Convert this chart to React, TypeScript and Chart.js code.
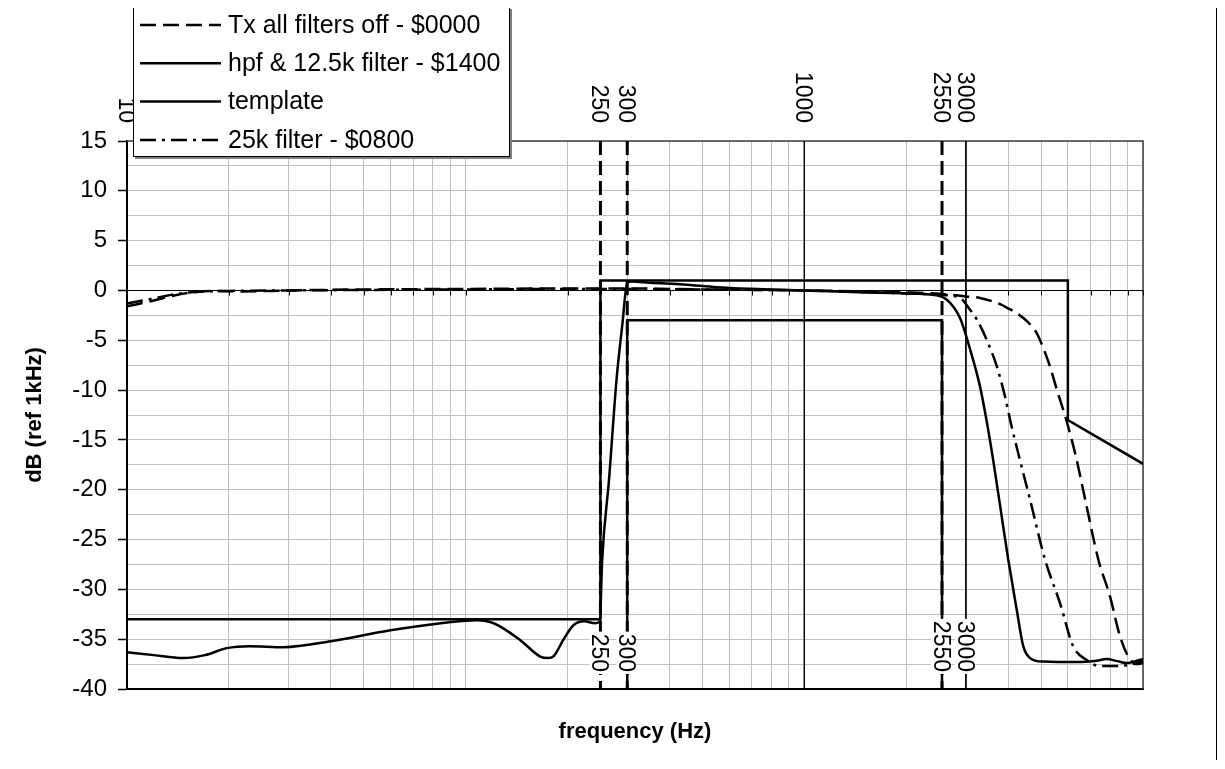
import React, { useEffect, useRef } from 'react';
import { Chart, registerables } from 'chart.js';

Chart.register(...registerables);

// ---------------- data ----------------
const seriesNames = [
  'Tx all filters off - $0000',
  'hpf & 12.5k filter - $1400',
  'template',
  '25k filter - $0800',
];

const txOffFreq = [10, 12, 14, 16, 18, 22, 30, 50, 100, 200, 300, 500, 1000, 2000, 2550, 3000, 3300, 3600, 3800, 4000, 4200, 4550, 4850, 5080, 5310, 5560, 5890, 6160, 6370, 6800, 7380, 7990, 8550, 9050, 9570, 10000];
const txOffDb = [-1.6, -1.0, -0.45, -0.15, -0.05, -0.1, 0, 0.1, 0.15, 0.2, 0.2, 0.1, 0, -0.2, -0.35, -0.6, -0.75, -1.1, -1.4, -1.8, -2.2, -3.1, -4.25, -5.8, -7.6, -9.9, -12.6, -15, -17, -21.5, -27, -30.7, -34.7, -36.75, -37.5, -37.4];

const hpfFreq = [10, 12, 14.6, 17, 19.7, 23, 29, 40, 60, 80, 100, 108, 121, 145, 166, 175, 182, 194, 208, 224, 241, 249, 253, 265, 279, 290, 300, 310, 350, 440, 550, 690, 1000, 1670, 2350, 2630, 2880, 3080, 3300, 3450, 3610, 3800, 4000, 4240, 4430, 4640, 5070, 6520, 7200, 7810, 8400, 8950, 9500, 10000];
const hpfDb = [-36.3, -36.6, -36.9, -36.6, -35.9, -35.7, -35.8, -35.2, -34.1, -33.5, -33.15, -33.1, -33.4, -35.1, -36.75, -36.9, -36.7, -35.1, -33.6, -33.2, -33.4, -33.2, -27, -19, -8.9, -3.5, 0.8, 0.9, 0.77, 0.6, 0.33, 0.17, 0, -0.23, -0.4, -0.9, -2.75, -5.8, -9.6, -13, -17, -22, -27, -32.1, -35.7, -36.9, -37.25, -37.3, -37.2, -37.0, -37.2, -37.4, -37.2, -37.0];

const k25Freq = [10, 12, 14, 17, 20, 30, 50, 100, 200, 300, 500, 1000, 2000, 2550, 2880, 3080, 3230, 3450, 3700, 3910, 4090, 4330, 4640, 5135, 5690, 6220, 6820, 7460, 8200, 9360, 10000];
const k25Db = [-1.3, -0.8, -0.35, -0.1, -0.05, 0, 0.05, 0.1, 0.15, 0.15, 0.1, 0, -0.3, -0.45, -0.75, -1.9, -2.9, -4.9, -7.6, -10.6, -13.6, -17, -21, -27, -31.4, -35.7, -37.1, -37.7, -37.7, -37.5, -37.2];

const templateUpperFreq = [10, 250, 250, 6000, 6000, 10000];
const templateUpperDb = [-33, -33, 1, 1, -13, -17.4];
const templateLowerFreq = [300, 300, 2550, 2550];
const templateLowerDb = [-40, -3, -3, -40];

const dashedMarkers = [250, 300, 2550];
const thinMarkers = [1000, 3000];
const topMarkerLabels = [10, 250, 300, 1000, 2550, 3000];
const bottomMarkerLabels = [250, 300, 2550, 3000];

const xMin = 10;
const xMax = 10000;
const yMin = -40;
const yMax = 15;
const xGridValues = [10, 20, 30, 40, 50, 60, 70, 80, 90, 100, 200, 300, 400, 500, 600, 700, 800, 900, 1000, 2000, 3000, 4000, 5000, 6000, 7000, 8000, 9000, 10000];
const yTickValues = [-40, -37.5, -35, -32.5, -30, -27.5, -25, -22.5, -20, -17.5, -15, -12.5, -10, -7.5, -5, -2.5, 0, 2.5, 5, 7.5, 10, 12.5, 15];

const xTitle = 'frequency (Hz)';
const yTitle = 'dB (ref 1kHz)';

function zip(xs: number[], ys: number[]) {
  return xs.map((x, i) => ({ x, y: ys[i] }));
}

export default function App() {
  const ref = useRef<HTMLCanvasElement>(null);

  useEffect(() => {
    const canvas = ref.current;
    if (!canvas) return;
    document.documentElement.style.overflow = 'hidden';
    const family = "'Liberation Sans', Arial, sans-serif";
    Chart.defaults.font.family = family;
    Chart.defaults.color = '#000';

    const lineDash = [16, 7];
    const dashDot = [16, 6, 3, 6];
    const markerDash = [14, 6];

    const curveCommon = {
      borderColor: '#000',
      backgroundColor: '#000',
      pointRadius: 0,
      fill: false,
    };

    const datasets: any[] = [
      { ...curveCommon, label: seriesNames[0], data: zip(txOffFreq, txOffDb), borderWidth: 2.5, borderDash: lineDash, cubicInterpolationMode: 'monotone' },
      { ...curveCommon, label: seriesNames[1], data: zip(hpfFreq, hpfDb), borderWidth: 2.5, cubicInterpolationMode: 'monotone' },
      { ...curveCommon, label: seriesNames[2], data: zip(templateUpperFreq, templateUpperDb), borderWidth: 2.5, tension: 0 },
      { ...curveCommon, label: seriesNames[3], data: zip(k25Freq, k25Db), borderWidth: 2.5, borderDash: dashDot, cubicInterpolationMode: 'monotone' },
      { ...curveCommon, label: 'template lower', data: zip(templateLowerFreq, templateLowerDb), borderWidth: 2.5, tension: 0 },
      ...dashedMarkers.map((f) => ({ ...curveCommon, label: 'm' + f, data: [{ x: f, y: yMax }, { x: f, y: yMin }], borderWidth: 3, borderDash: markerDash, tension: 0 })),
      ...thinMarkers.map((f) => ({ ...curveCommon, label: 'm' + f, data: [{ x: f, y: yMax }, { x: f, y: yMin }], borderWidth: 1, tension: 0 })),
    ];

    const legendStyles = [
      { dash: lineDash },
      { dash: [] as number[] },
      { dash: [] as number[] },
      { dash: dashDot },
    ];

    const decor = {
      id: 'excelDecor',
      beforeDatasetsDraw(chart: any) {
        const { ctx, chartArea } = chart;
        const xs = chart.scales.x;
        const ys = chart.scales.y;
        ctx.save();
        // plot area top/right border
        ctx.strokeStyle = '#404040';
        ctx.lineWidth = 1.5;
        ctx.beginPath();
        ctx.moveTo(chartArea.left, chartArea.top);
        ctx.lineTo(chartArea.right, chartArea.top);
        ctx.lineTo(chartArea.right, chartArea.bottom);
        ctx.stroke();
        // zero axis line with minor ticks
        const y0 = Math.round(ys.getPixelForValue(0)) + 0.5;
        ctx.strokeStyle = '#000';
        ctx.lineWidth = 1;
        ctx.beginPath();
        ctx.moveTo(chartArea.left, y0);
        ctx.lineTo(chartArea.right, y0);
        xGridValues.forEach((v) => {
          const x = Math.round(xs.getPixelForValue(v)) + 0.5;
          ctx.moveTo(x, y0);
          ctx.lineTo(x, y0 + 5);
        });
        ctx.stroke();
        ctx.restore();
      },
      afterDatasetsDraw(chart: any) {
        const { ctx } = chart;
        const xs = chart.scales.x;
        const ys = chart.scales.y;
        ctx.save();
        ctx.font = `23px ${family}`;
        const drawLabel = (v: number, yEnd: number, bg: boolean) => {
          const x = xs.getPixelForValue(v) - 2;
          const text = String(v);
          ctx.save();
          ctx.translate(x, yEnd);
          ctx.rotate(Math.PI / 2);
          const w = ctx.measureText(text).width;
          if (bg) {
            ctx.fillStyle = '#fff';
            ctx.fillRect(-w - 2, -9, w + 4, 18);
          }
          ctx.fillStyle = '#000';
          ctx.textAlign = 'right';
          ctx.textBaseline = 'middle';
          ctx.fillText(text, 0, 0);
          ctx.restore();
        };
        const topEnd = ys.getPixelForValue(yMax) - 18;
        const botEnd = ys.getPixelForValue(yMin) - 17;
        topMarkerLabels.forEach((v) => drawLabel(v, topEnd, false));
        bottomMarkerLabels.forEach((v) => drawLabel(v, botEnd, true));
        ctx.restore();
      },
      afterDraw(chart: any) {
        const { ctx, chartArea } = chart;
        const L = chartArea.left + 6;
        const T = -1;
        const W = 377;
        const H = 150;
        ctx.save();
        ctx.fillStyle = '#7f7f7f';
        ctx.fillRect(L + 2, T + 2, W, H);
        ctx.fillStyle = '#fff';
        ctx.fillRect(L, T, W, H);
        ctx.strokeStyle = '#000';
        ctx.lineWidth = 1;
        ctx.strokeRect(L + 0.5, T + 0.5, W - 1, H - 1);
        ctx.font = `25px ${family}`;
        ctx.textAlign = 'left';
        ctx.textBaseline = 'middle';
        seriesNames.forEach((name, i) => {
          const y = 17 + i * 38.3;
          ctx.strokeStyle = '#000';
          ctx.lineWidth = 2.5;
          ctx.setLineDash(legendStyles[i].dash);
          ctx.beginPath();
          ctx.moveTo(L + 7, y);
          ctx.lineTo(L + 88, y);
          ctx.stroke();
          ctx.setLineDash([]);
          ctx.fillStyle = '#000';
          ctx.fillText(name, L + 95, y + 1);
        });
        ctx.restore();
      },
    };

    const chart = new Chart(canvas, {
      type: 'line',
      data: { datasets },
      options: {
        responsive: false,
        animation: false,
        events: [],
        layout: { padding: { left: 0, top: 133, right: 73, bottom: 0 } },
        plugins: { legend: { display: false }, tooltip: { enabled: false } },
        scales: {
          x: {
            type: 'logarithmic',
            position: 'bottom',
            min: xMin,
            max: xMax,
            afterBuildTicks: (s: any) => {
              s.ticks = xGridValues.map((v) => ({ value: v }));
            },
            afterFit: (s: any) => {
              s.height = 80;
            },
            ticks: { display: false },
            grid: { color: '#c0c0c0', lineWidth: 1, drawTicks: false },
            border: { color: '#000', width: 2 },
            title: {
              display: true,
              text: xTitle,
              color: '#000',
              font: { size: 22, weight: 'bold', family },
              padding: { top: 0, bottom: 24 },
            },
          },
          y: {
            type: 'linear',
            position: 'left',
            min: yMin,
            max: yMax,
            afterBuildTicks: (s: any) => {
              s.ticks = yTickValues.map((v) => ({ value: v }));
            },
            afterFit: (s: any) => {
              s.width = 119;
            },
            ticks: {
              autoSkip: false,
              padding: 11,
              color: '#000',
              font: { size: 24, family },
              callback: (v: any) => (Number(v) % 5 === 0 ? String(v) : ''),
            },
            grid: {
              color: '#c0c0c0',
              lineWidth: 1,
              tickLength: 9,
              tickWidth: 1.5,
              tickColor: (c: any) => (c.tick && c.tick.value % 5 === 0 ? '#000' : 'rgba(0,0,0,0)'),
            },
            border: { color: '#000', width: 2 },
            title: {
              display: true,
              text: yTitle,
              color: '#000',
              font: { size: 22, weight: 'bold', family },
              padding: { top: 14, bottom: 0 },
            },
          },
        },
      } as any,
      plugins: [decor],
    });

    return () => chart.destroy();
  }, []);

  return (
    <div
      style={{
        width: 1208,
        marginTop: -1,
        marginLeft: -1,
        marginBottom: -9,
        borderLeft: '1px solid #000',
        borderTop: '1px solid #000',
        borderRight: '1px solid #000',
        background: '#fff',
      }}
    >
      <canvas ref={ref} width={1208} height={761} style={{ display: 'block', width: 1208, height: 761 }} />
    </div>
  );
}
